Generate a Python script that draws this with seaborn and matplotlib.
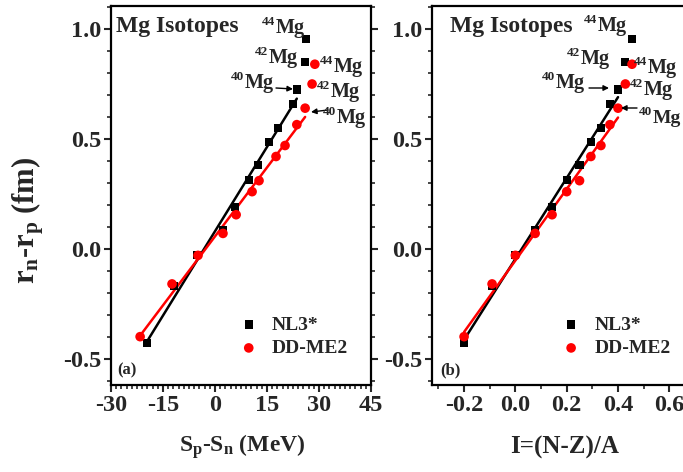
import numpy as np
import pandas as pd
import matplotlib
matplotlib.use("Agg")
import matplotlib.pyplot as plt
import seaborn as sns
from matplotlib.ticker import MultipleLocator

# ---------------- data ----------------
isotopes = ["20Mg", "22Mg", "24Mg", "26Mg", "28Mg", "30Mg", "32Mg",
            "34Mg", "36Mg", "38Mg", "40Mg", "42Mg", "44Mg"]
asym_I = [-0.2, -0.0909, 0.0, 0.0769, 0.1429, 0.2, 0.25,
          0.2941, 0.3333, 0.3684, 0.4, 0.4286, 0.4545]
spsn_nl3 = [-19.6, -11.8, -5.2, 2.3, 5.8, 9.8, 12.4, 15.6, 18.2, 22.5, 23.6, 26.0, 26.2]
spsn_dd = [-21.6, -12.4, -4.9, 2.3, 6.1, 10.7, 12.7, 17.6, 20.2, 23.6, 26.0, 28.0, 28.8]
rnp_nl3 = [-0.43, -0.17, -0.03, 0.085, 0.19, 0.315, 0.38, 0.485, 0.55, 0.66, 0.725, 0.85, 0.955]
rnp_dd = [-0.40, -0.16, -0.03, 0.07, 0.155, 0.26, 0.31, 0.42, 0.47, 0.565, 0.64, 0.75, 0.84]
series_names = ["NL3*", "DD-ME2"]
n_fit = 11  # linear fits over 20Mg..40Mg

df_nl3 = pd.DataFrame({"spsn": spsn_nl3, "I": asym_I, "rnp": rnp_nl3})
df_dd = pd.DataFrame({"spsn": spsn_dd, "I": asym_I, "rnp": rnp_dd})

# ---------------- style ----------------
sns.set_style("ticks")
plt.rcParams["font.family"] = ["Liberation Serif", "DejaVu Serif"]
plt.rcParams["font.weight"] = "bold"
plt.rcParams["axes.unicode_minus"] = False
plt.rcParams["mathtext.fontset"] = "custom"
plt.rcParams["mathtext.rm"] = "Liberation Serif:bold"
plt.rcParams["mathtext.bf"] = "Liberation Serif:bold"
plt.rcParams["mathtext.it"] = "Liberation Serif:bold"
plt.rcParams["mathtext.default"] = "rm"

W, H = 683, 472
fig = plt.figure(figsize=(W/100, H/100), dpi=100)
axa = fig.add_axes([111/W, 1-385/H, 260/W, 379/H])
axb = fig.add_axes([432/W, 1-385/H, 263/W, 379/H])

black = "#000000"
red = "#ff0000"

def style_axis(ax):
    for s in ax.spines.values():
        s.set_linewidth(1.6)
        s.set_color("black")
    ax.tick_params(which="major", direction="out", length=5, width=1.5,
                   labelsize=17.5, pad=2, right=True, labelright=False)
    ax.tick_params(which="minor", direction="out", length=3, width=1.2, right=True)
    ax.set_ylim(-0.62, 1.105)
    ax.yaxis.set_minor_locator(MultipleLocator(0.1))
    ax.set_yticks([-0.5, 0.0, 0.5, 1.0])
    ax.set_yticklabels(["-0.5", "0.0", "0.5", "1.0"])

def draw(ax, xcol):
    sns.regplot(data=df_nl3.iloc[:n_fit], x=xcol, y="rnp", ax=ax, scatter=False,
                ci=None, truncate=True, color=black, line_kws={"lw": 1.8})
    sns.regplot(data=df_dd.iloc[:n_fit], x=xcol, y="rnp", ax=ax, scatter=False,
                ci=None, truncate=True, color=red, line_kws={"lw": 1.8})
    sns.scatterplot(data=df_nl3, x=xcol, y="rnp", ax=ax, marker="s", s=34,
                    color=black, edgecolor="none", label=series_names[0], zorder=5)
    sns.scatterplot(data=df_dd, x=xcol, y="rnp", ax=ax, marker="o", s=48,
                    color=red, edgecolor="none", label=series_names[1], zorder=5)
    ax.legend(loc="center left", bbox_to_anchor=(0.455, 0.128), frameon=False,
              prop={"weight": "bold", "size": 14}, handlelength=1.0,
              handletextpad=0.7, labelspacing=0.3, borderpad=0)
    ax.set_xlabel("")
    ax.set_ylabel("")

def fpx(xp, yp):
    return (xp / W, 1 - yp / H)

def iso(xp, yp, num, size=14.5):
    # "Mg" with its left edge at xp, caps centred at yp (figure pixels)
    fig.text(*fpx(xp, yp + 6), "Mg", ha="left", va="baseline",
             fontsize=size, fontweight="bold")
    fig.text(*fpx(xp - 0.5, yp - 2), num, ha="right", va="baseline",
             fontsize=9.5, fontweight="bold")

def arrow(x0, y0, x1, y1):
    fig.add_artist(matplotlib.patches.FancyArrowPatch(
        fpx(x0, y0), fpx(x1, y1), transform=fig.transFigure,
        arrowstyle="-|>", mutation_scale=8, lw=1.0, color="black",
        shrinkA=0, shrinkB=0))

# ---------------- panel (a) ----------------
draw(axa, "spsn")
axa.set_xlim(-30, 45)
axa.xaxis.set_major_locator(MultipleLocator(15))
axa.xaxis.set_minor_locator(MultipleLocator(1.5))
style_axis(axa)

axa.text(0.02, 0.945, "Mg Isotopes", transform=axa.transAxes, ha="left", va="center",
         fontsize=17, fontweight="bold")
axa.text(0.025, 0.018, "(a)", transform=axa.transAxes, ha="left", va="bottom",
         fontsize=12, fontweight="bold")
iso(276, 27, "44")
iso(269, 57, "42")
iso(245, 82, "40")
arrow(276, 88, 293, 89)
iso(334, 66, "44")
iso(331, 91, "42")
iso(337, 117, "40")
arrow(328, 110, 311, 112)

# ---------------- panel (b) ----------------
draw(axb, "I")
axb.set_xlim(-0.325, 0.7)
axb.xaxis.set_minor_locator(MultipleLocator(0.1))
style_axis(axb)
axb.set_xticks([-0.2, 0.0, 0.2, 0.4, 0.6])
axb.set_xticklabels(["-0.2", "0.0", "0.2", "0.4", "0.6"])

axb.text(0.07, 0.945, "Mg Isotopes", transform=axb.transAxes, ha="left", va="center",
         fontsize=17, fontweight="bold")
axb.text(0.03, 0.018, "(b)", transform=axb.transAxes, ha="left", va="bottom",
         fontsize=12, fontweight="bold")
iso(598, 25, "44")
iso(581, 58, "42")
iso(556, 82, "40")
arrow(589, 88, 609, 88)
iso(648, 67, "44")
iso(644, 89, "42")
iso(653, 117, "40", size=14)
arrow(637, 108, 621, 108)

for ax in (axa, axb):
    for lab in ax.get_xticklabels() + ax.get_yticklabels():
        lab.set_fontweight("bold")

# axis titles
fig.text(*fpx(28, 220), r"r$_n$-r$_p$ (fm)", rotation=90, ha="center", va="center",
         fontsize=22, fontweight="bold")
fig.text(*fpx(242, 447), r"S$_p$-S$_n$ (MeV)", ha="center", va="center",
         fontsize=17, fontweight="bold")
fig.text(*fpx(565, 447), "I=(N-Z)/A", ha="center", va="center",
         fontsize=18, fontweight="bold")

fig.savefig("out.png", dpi=100)
